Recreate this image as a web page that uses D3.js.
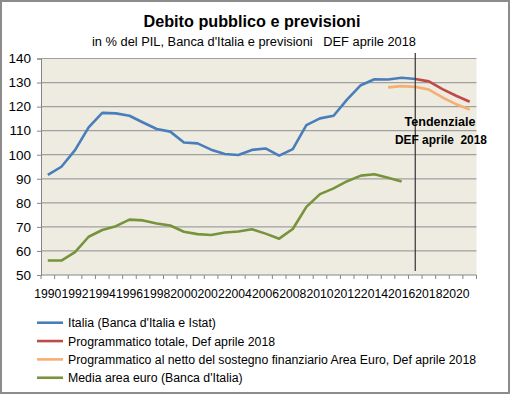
<!DOCTYPE html>
<html>
<head>
<meta charset="utf-8">
<script src="https://cdn.jsdelivr.net/npm/d3@7"></script>
<style>
  body { margin: 0; background: #fff; }
  svg text { font-family: "Liberation Sans", Arial, sans-serif; }
</style>
</head>
<body>
<svg width="510" height="394"></svg>
<script>
const svg = d3.select('svg');
const width = +svg.attr('width');
const height = +svg.attr('height');

// data
const years = d3.range(1990, 2022).map(String);
const italia = [91.6, 95.0, 101.9, 111.4, 117.4, 117.2, 116.2, 113.4, 110.7, 109.6,
  105.1, 104.7, 102.1, 100.3, 99.9, 102.0, 102.6, 99.6, 102.3, 112.3,
  115.1, 116.2, 123.0, 128.9, 131.4, 131.3, 132.0, 131.5];
const progTotale = {start: 2017, values: [131.5, 130.5, 127.3, 124.5, 122.0]};
const progNetto = {start: 2015, values: [128.0, 128.5, 128.2, 127.1, 123.8, 121.0, 118.8]};
const mediaEuro = [56.0, 56.0, 59.5, 65.9, 68.7, 70.3, 73.0, 72.7, 71.4, 70.6,
  68.0, 67.0, 66.6, 67.7, 68.1, 69.0, 67.2, 65.1, 69.1, 78.3,
  83.6, 86.0, 89.0, 91.3, 91.9, 90.4, 88.9];
const yTicks = [50, 60, 70, 80, 90, 100, 110, 120, 130, 140];
const xLabels = years.filter((d, i) => i % 2 === 0 && +d <= 2020);

const series = [
  {name: "Italia (Banca d'Italia e Istat)", color: '#4a7ebb', pts: italia.map((v, i) => [years[i], v])},
  {name: 'Programmatico totale, Def aprile 2018', color: '#be4b48', pts: progTotale.values.map((v, i) => [String(progTotale.start + i), v])},
  {name: 'Programmatico al netto del sostegno finanziario Area Euro, Def aprile 2018', color: '#f6ae72', pts: progNetto.values.map((v, i) => [String(progNetto.start + i), v])},
  {name: "Media area euro (Banca d'Italia)", color: '#77933c', pts: mediaEuro.map((v, i) => [years[i], v])}
];
const drawOrder = [0, 3, 2, 1];

const plot = {left: 41, right: 476.5, top: 58.5, bottom: 275};

const x = d3.scaleBand().domain(years).range([plot.left, plot.right]).padding(0);
const y = d3.scaleLinear().domain([50, 140]).range([plot.bottom, plot.top]);
const cx = d => x(d) + x.bandwidth() / 2;

// frame
svg.append('rect').attr('x', 1).attr('y', 1).attr('width', width - 2).attr('height', height - 2)
  .attr('fill', '#fff').attr('stroke', '#8c8c8c').attr('stroke-width', 2);

// titles
svg.append('text').attr('x', 252).attr('y', 27).attr('text-anchor', 'middle')
  .attr('font-size', 17).attr('font-weight', 'bold').attr('fill', '#000')
  .attr('textLength', 217).attr('lengthAdjust', 'spacingAndGlyphs')
  .text('Debito pubblico e previsioni');
svg.append('text').attr('x', 254).attr('y', 46).attr('text-anchor', 'middle')
  .attr('font-size', 12.5).attr('fill', '#000')
  .attr('textLength', 324).attr('lengthAdjust', 'spacingAndGlyphs')
  .text("in % del PIL, Banca d'Italia e previsioni \u00a0 DEF aprile 2018");

// plot area
svg.append('rect').attr('x', plot.left).attr('y', plot.top)
  .attr('width', plot.right - plot.left).attr('height', plot.bottom - plot.top)
  .attr('fill', '#eeece1');

// grid
svg.append('g').selectAll('line').data(yTicks.slice(1)).enter().append('line')
  .attr('x1', plot.left).attr('x2', plot.right)
  .attr('y1', d => y(d)).attr('y2', d => y(d))
  .attr('stroke', '#a0a0a0').attr('stroke-width', 1.2);

// y axis
const yAxis = svg.append('g').attr('transform', `translate(${plot.left},0)`)
  .call(d3.axisLeft(y).tickValues(yTicks).tickSize(4).tickPadding(6));
yAxis.select('.domain').attr('stroke', '#868686');
yAxis.selectAll('.tick line').attr('stroke', '#868686');
yAxis.selectAll('text').attr('font-size', 13.5).attr('fill', '#000')
  .attr('font-family', '"Liberation Sans", Arial, sans-serif');

// x axis
const xg = svg.append('g');
xg.append('line').attr('x1', plot.left).attr('x2', plot.right)
  .attr('y1', plot.bottom).attr('y2', plot.bottom).attr('stroke', '#868686');
xg.selectAll('.tk').data(years.concat(['end'])).enter().append('line')
  .attr('x1', d => d === 'end' ? plot.right : x(d))
  .attr('x2', d => d === 'end' ? plot.right : x(d))
  .attr('y1', plot.bottom).attr('y2', plot.bottom + 4).attr('stroke', '#868686');
xg.selectAll('text').data(xLabels).enter().append('text')
  .attr('x', d => cx(d)).attr('y', 298).attr('text-anchor', 'middle')
  .attr('font-size', 12.2).attr('fill', '#000').text(d => d);

// lines
const line = d3.line().x(d => cx(d[0])).y(d => y(d[1]));
svg.append('g').selectAll('path').data(drawOrder.map(i => series[i])).enter().append('path')
  .attr('d', d => line(d.pts)).attr('fill', 'none')
  .attr('stroke', d => d.color).attr('stroke-width', 2.6)
  .attr('stroke-linejoin', 'round');

// vertical marker 2017
const vx = cx('2017');
svg.append('line').attr('x1', vx).attr('x2', vx).attr('y1', 53).attr('y2', 271)
  .attr('stroke', '#333').attr('stroke-width', 1.2);
svg.append('text').attr('x', 440).attr('y', 126).attr('text-anchor', 'middle')
  .attr('font-size', 13).attr('font-weight', 'bold').attr('fill', '#000')
  .attr('textLength', 71).attr('lengthAdjust', 'spacingAndGlyphs').text('Tendenziale');
svg.append('text').attr('x', 441).attr('y', 144).attr('text-anchor', 'middle')
  .attr('font-size', 13).attr('font-weight', 'bold').attr('fill', '#000')
  .attr('textLength', 92).attr('lengthAdjust', 'spacingAndGlyphs').text('DEF aprile \u00a02018');

// legend
const legend = svg.append('g').selectAll('g').data(series).enter().append('g')
  .attr('transform', (d, i) => `translate(37,${322.7 + i * 18.35})`);
legend.append('line').attr('x1', 0).attr('x2', 26).attr('y1', 0).attr('y2', 0)
  .attr('stroke', d => d.color).attr('stroke-width', 2.6);
legend.append('text').attr('x', 31).attr('y', 4.5).attr('font-size', 12.3).attr('fill', '#000')
  .text(d => d.name);
</script>
</body>
</html>
